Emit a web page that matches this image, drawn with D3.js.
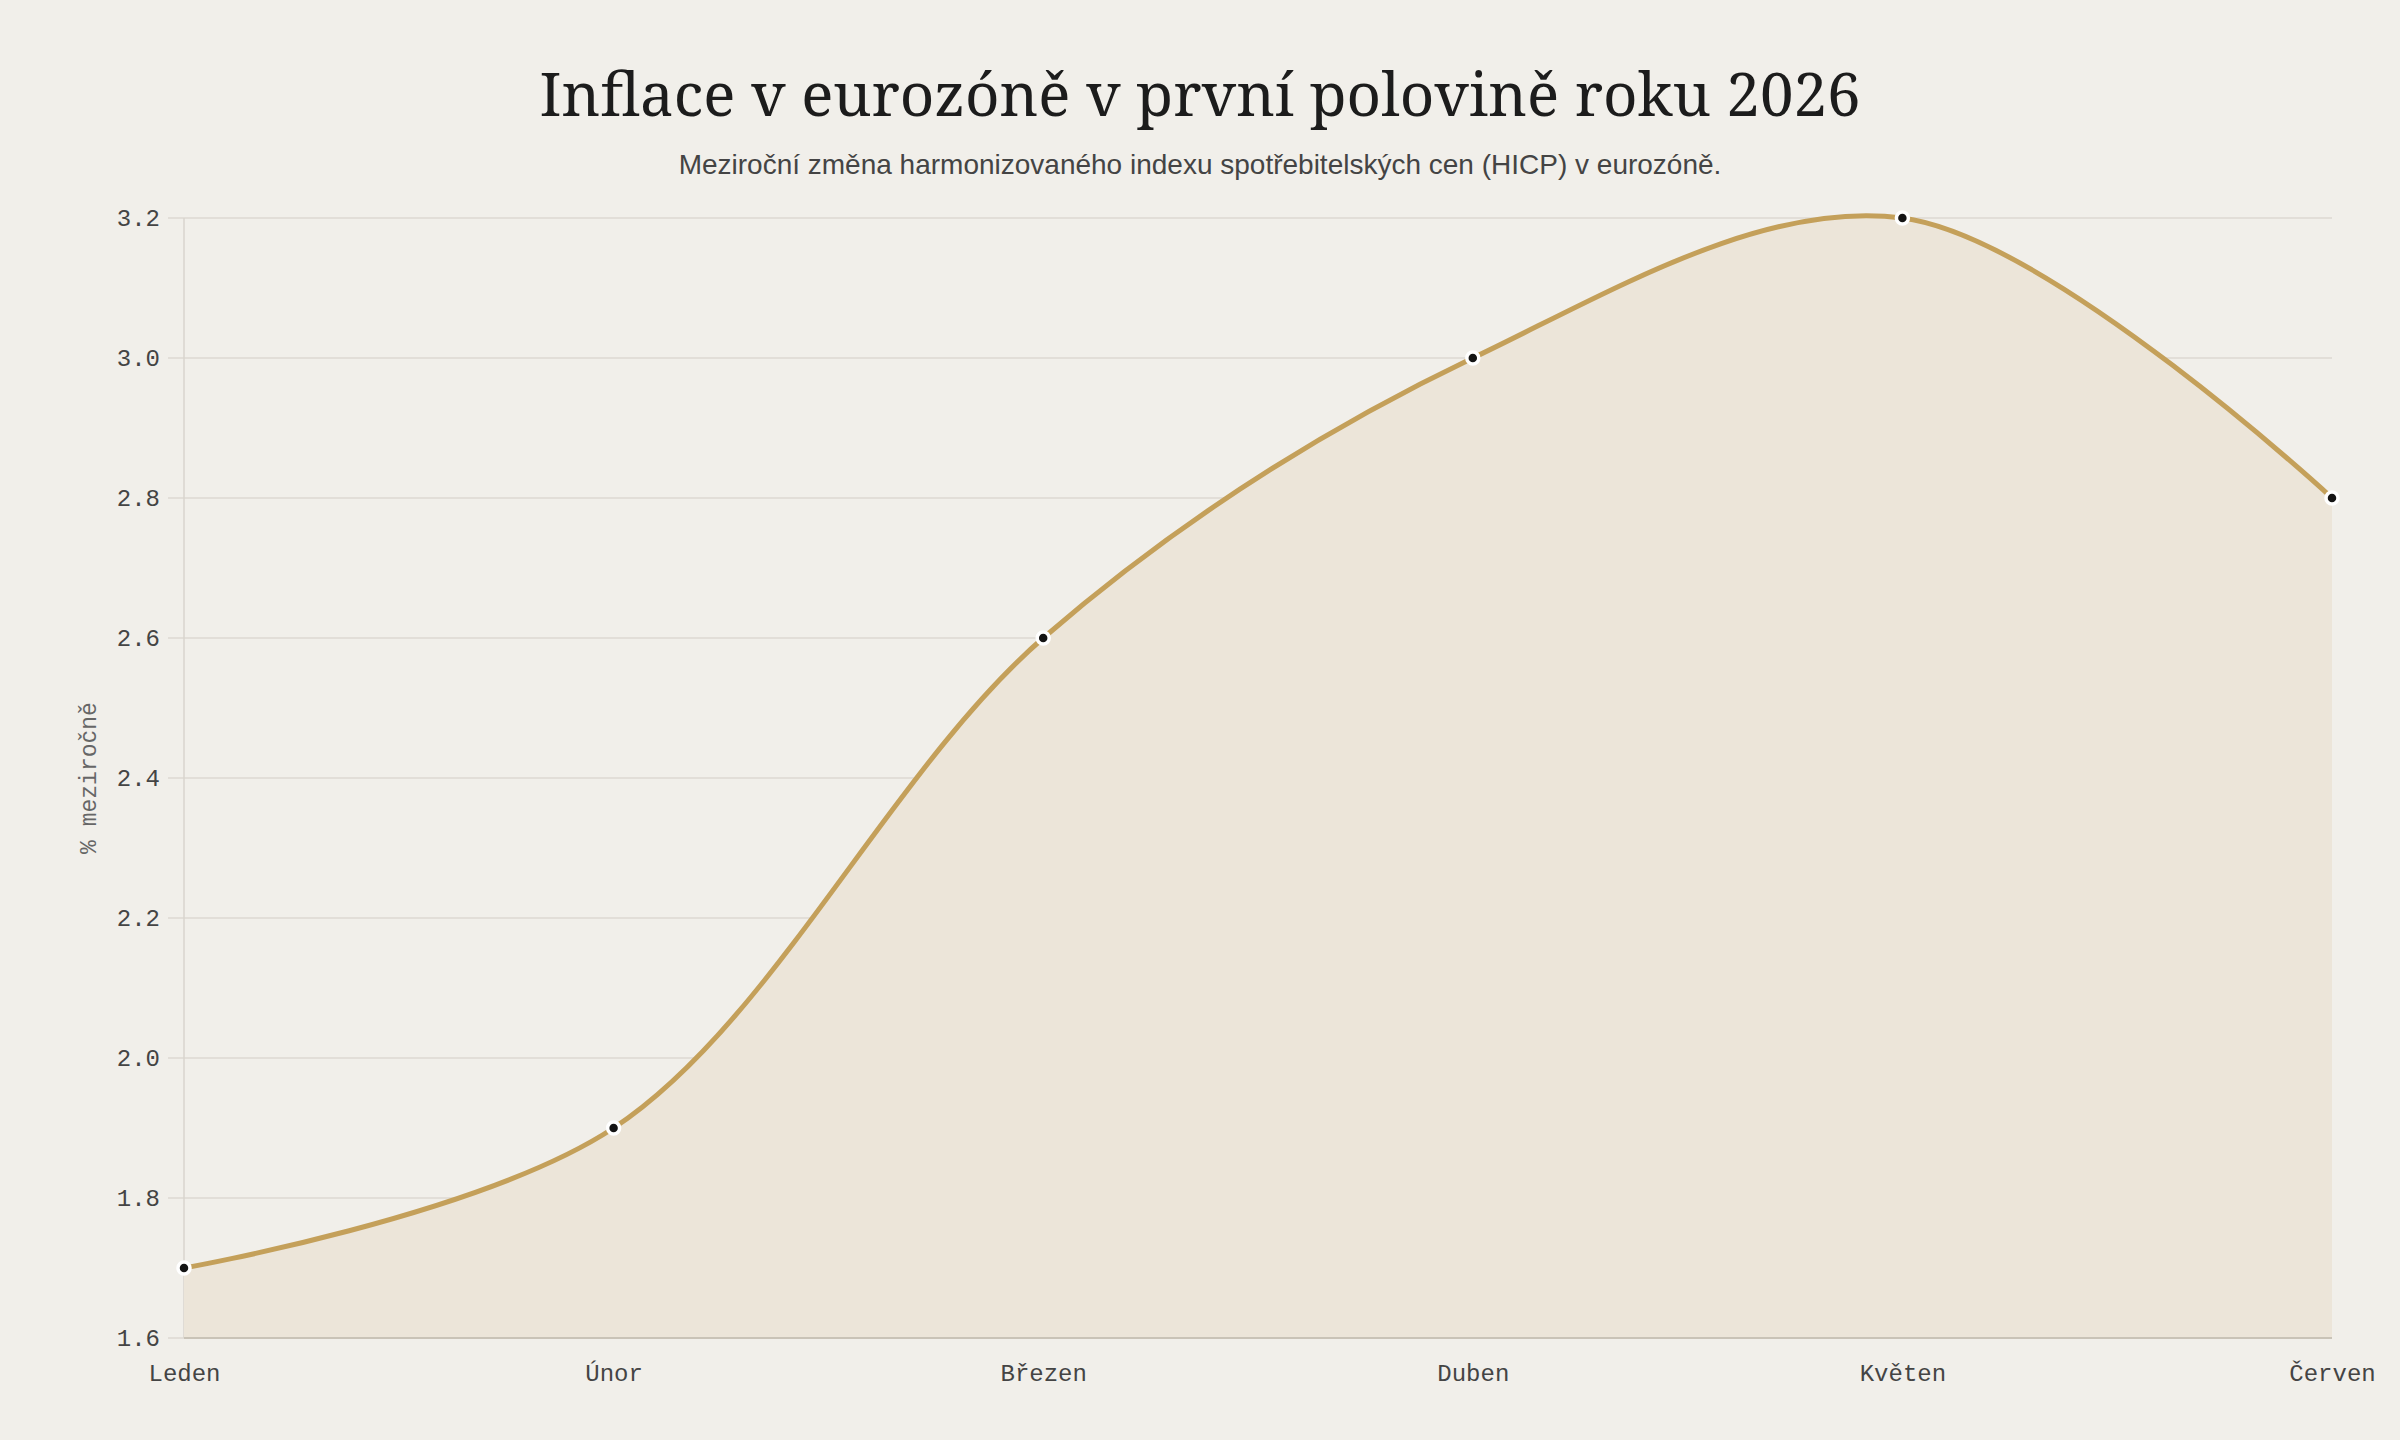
<!DOCTYPE html>
<html>
	<head>
		<meta charset="utf-8">
		<title></title>
		<style type="text/css">
			body{
				margin: 0;
				background-color: #f1efea;
			}
			.tick text{
				font-family: "Liberation Mono", "DejaVu Sans Mono", monospace;
				font-size: 24px;
				fill: #444;
			}
		</style>
	</head>
	<body>
		<div id="chart"></div>
		<script src="https://d3js.org/d3.v7.min.js"></script>
		<script>
		let months=["Leden","Únor","Březen","Duben","Květen","Červen"]
		let inflation=[1.7,1.9,2.6,3.0,3.2,2.8]
		let yTicks=[1.6,1.8,2.0,2.2,2.4,2.6,2.8,3.0,3.2]

		let w=2400;
		let h=1440;
		let margin={top:218,right:68,bottom:102,left:184};
		let iw=w-margin.left-margin.right;
		let ih=h-margin.top-margin.bottom;

		let svg=d3.select("#chart").append("svg")
			.attr("width",w)
			.attr("height",h)
			.style("background","#f1efea");

		svg.append("text")
			.attr("x",w/2)
			.attr("y",116)
			.attr("text-anchor","middle")
			.attr("font-family","'Noto Serif', 'DejaVu Serif', serif")
			.attr("font-size","60px")
			.attr("fill","#1c1c1c")
			.text("Inflace v eurozóně v první polovině roku 2026");

		svg.append("text")
			.attr("x",w/2)
			.attr("y",174)
			.attr("text-anchor","middle")
			.attr("font-family","'Liberation Sans', Arial, sans-serif")
			.attr("font-size","28px")
			.attr("fill","#444")
			.text("Meziroční změna harmonizovaného indexu spotřebitelských cen (HICP) v eurozóně.");

		let g=svg.append("g").attr("transform","translate("+margin.left+","+margin.top+")");

		let x=d3.scalePoint().domain(months).range([0,iw]);
		let y=d3.scaleLinear().domain([1.6,3.2]).range([ih,0]);

		// grid + y axis
		let yAxis=g.append("g")
			.call(d3.axisLeft(y).tickValues(yTicks).tickFormat(d3.format(".1f")).tickSize(0).tickPadding(24));
		yAxis.select(".domain").remove();
		g.append("g").selectAll("line")
			.data(yTicks)
			.enter()
			.append("line")
			.attr("x1",-16)
			.attr("x2",iw)
			.attr("y1",d=>y(d))
			.attr("y2",d=>y(d))
			.attr("stroke","#dcd9d2")
			.attr("stroke-width",1.5);
		g.append("line")
			.attr("x1",0).attr("x2",0)
			.attr("y1",0).attr("y2",ih)
			.attr("stroke","#d8d5ce")
			.attr("stroke-width",1.5);

		let curve=d3.curveCatmullRom;
		let area=d3.area()
			.x((d,i)=>x(months[i]))
			.y0(ih)
			.y1(d=>y(d))
			.curve(curve);
		let line=d3.line()
			.x((d,i)=>x(months[i]))
			.y(d=>y(d))
			.curve(curve);

		g.append("path")
			.datum(inflation)
			.attr("d",area)
			.attr("fill","#ece5d9");

		// x axis
		let xAxis=g.append("g")
			.attr("transform","translate(0,"+ih+")")
			.call(d3.axisBottom(x).tickSize(0).tickPadding(26));
		xAxis.select(".domain").remove();
		g.append("line")
			.attr("x1",0).attr("x2",iw)
			.attr("y1",ih).attr("y2",ih)
			.attr("stroke","#c9c3b7")
			.attr("stroke-width",2);

		g.append("path")
			.datum(inflation)
			.attr("d",line)
			.attr("fill","none")
			.attr("stroke","#c4a05a")
			.attr("stroke-width",5);

		g.selectAll("circle")
			.data(inflation)
			.enter()
			.append("circle")
			.attr("cx",(d,i)=>x(months[i]))
			.attr("cy",d=>y(d))
			.attr("r",6)
			.attr("fill","#141414")
			.attr("stroke","#fff")
			.attr("stroke-width",3.5);

		svg.append("text")
			.attr("transform","translate(96,"+(margin.top+ih/2)+") rotate(-90)")
			.attr("text-anchor","middle")
			.attr("font-family","'Liberation Mono', monospace")
			.attr("font-size","23px")
			.attr("fill","#666")
			.text("% meziročně");
		</script>
	</body>
</html>
